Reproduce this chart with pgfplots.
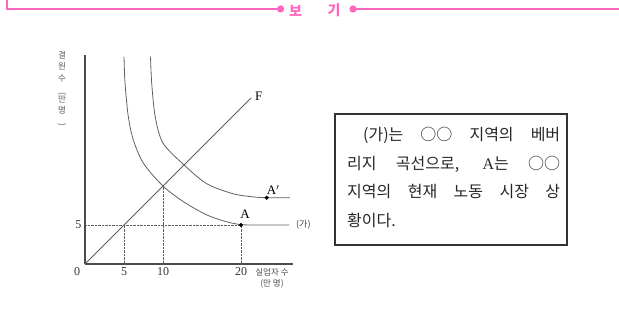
\documentclass[border=0pt]{standalone}
\usepackage{pgfplots}
\pgfplotsset{compat=1.18}
\usepackage{fontspec}
\setmainfont{Liberation Serif}
\newfontfamily\kr{Noto Sans CJK KR}
\definecolor{bogi}{RGB}{255,102,190}
\definecolor{ln}{RGB}{95,95,95}

\begin{document}
\begin{tikzpicture}[x=1pt,y=1pt]
\useasboundingbox (0,0) rectangle (619,326);
% pink frame of the "보기" box
\draw[bogi, line width=2pt] (7,326) -- (7,317) -- (278,317);
\draw[bogi, line width=2pt] (355,317) -- (619,317);
\fill[bogi] (280.5,317) circle (3.6) (353,317) circle (3.6);
\node[bogi, font=\kr\bfseries\fontsize{14}{14}\selectfont] at (295.5,315.5) {보};
\node[bogi, font=\kr\bfseries\fontsize{14}{14}\selectfont] at (334,315.5) {기};

\begin{axis}[
  at={(85pt,62pt)}, anchor=origin,
  x=7.8pt, y=7.8pt,
  xmin=0, xmax=26.7, ymin=0, ymax=26.8,
  axis lines=left,
  axis line style={-, draw=black!70, line width=1.1pt},
  xtick={5,10,20}, ytick={5},
  major tick length=0pt,
  tick label style={font=\fontsize{12}{12}\selectfont, text=black!80},
  /pgf/number format/assume math mode=true,
  clip=false,
  ]
  % guide lines
  \addplot[densely dotted, ln, thin] coordinates {(0,5) (20,5)};
  \addplot[densely dotted, ln, thin] coordinates {(5,0) (5,5)};
  \addplot[densely dotted, ln, thin] coordinates {(10,0) (10,10)};
  \addplot[densely dotted, ln, thin] coordinates {(20,0) (20,5)};
  % 45 degree line
  \addplot[ln, line width=0.8pt] coordinates {(0,0) (21.3,21.3)};
  % (가) curve
  \addplot[ln, line width=0.8pt, smooth] coordinates {
    (5.0,26.6) (5.13,23.2) (5.55,18.9) (6.2,15.9) (7.5,12.9) (10,10)
    (12.6,8.0) (15.6,6.3) (18.2,5.4) (20,5.05) (22,5.0) (26.2,5.0)};
  % shifted curve
  \addplot[ln, line width=0.8pt, smooth] coordinates {
    (8.4,26.6) (8.55,23.2) (9.0,18.9) (10.0,15.5) (12.7,12.7) (15.6,10.3)
    (19.0,9.0) (21.6,8.6) (23.3,8.5) (26.3,8.5)};
  % points A and A'
  \addplot[only marks, mark=*, mark size=1.8pt, black] coordinates {(20,5) (23.3,8.5)};

  \node[anchor=base west, inner sep=0, font=\fontsize{13}{13}\selectfont] at (axis cs:19.9,5.77) {A};
  \node[anchor=base west, inner sep=0, font=\fontsize{13}{13}\selectfont] at (axis cs:23.3,8.85) {A$'$};
  \node[anchor=base west, inner sep=0, font=\fontsize{13}{13}\selectfont] at (axis cs:21.8,20.9) {F};
  \node[anchor=west, inner sep=0, font=\kr\fontsize{9}{9}\selectfont, text=black!75] at (axis cs:27.05,5.0) {(가)};
\end{axis}

% zero at the origin
\node[font=\fontsize{12}{12}\selectfont, text=black!80] at (77,54) {0};
% axis titles
\node[align=center, inner sep=0, font=\kr\fontsize{8.5}{10.5}\selectfont, text=black!65] at (62,237)
  {결\\원\\[2pt]수\\\rotatebox{-90}{(}\\만\\명\\\rotatebox{-90}{)}};
\node[font=\kr\fontsize{8.5}{8.5}\selectfont, text=black!70] at (272,54) {실업자 수};
\node[font=\kr\fontsize{8.5}{8.5}\selectfont, text=black!70] at (272,42.5) {(만 명)};

% text box
\draw[line width=1.4pt, black!80] (335,81) rectangle (567,212);
\begin{scope}[every node/.style={anchor=base west, inner sep=0, font=\kr\fontsize{16}{16}\selectfont, text=black!85}]
\node at (363,185) {\makebox[197pt][s]{(가)는 ○○ 지역의 베버}};
\node at (347,156.5) {\makebox[213pt][s]{리지 곡선으로, {\rmfamily A}는 ○○}};
\node at (347,128) {\makebox[213pt][s]{지역의 현재 노동 시장 상}};
\node at (347,99.5) {황이다.};
\end{scope}
\end{tikzpicture}
\end{document}
